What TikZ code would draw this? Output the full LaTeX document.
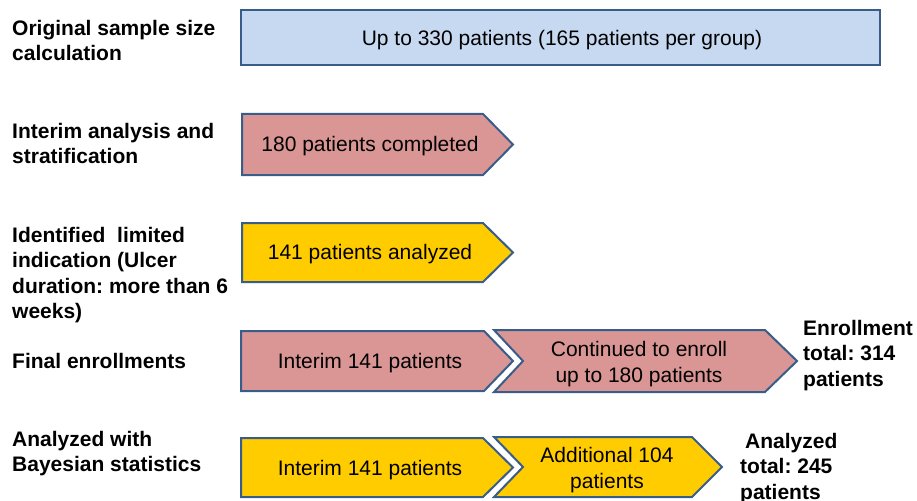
\documentclass[tikz,border=0pt]{standalone}
\usepackage{fontspec}
\setmainfont{Liberation Sans}
\frenchspacing
\definecolor{edgeblue}{RGB}{56,93,138}
\definecolor{boxblue}{RGB}{198,217,241}
\definecolor{boxred}{RGB}{217,150,148}
\definecolor{boxyellow}{RGB}{255,204,0}
\tikzset{
  shapebox/.style={draw=edgeblue, line width=2pt, line join=miter},
  boxtext/.style={font=\fontsize{21}{25.5}\selectfont, align=center, inner sep=0pt, text=black},
  sidetext/.style={font=\bfseries\fontsize{21}{25.5}\selectfont, align=left, inner sep=0pt, anchor=north west, text=black}
}
\begin{document}
\begin{tikzpicture}[x=1pt,y=-1pt]
\useasboundingbox (0,0) rectangle (917,500);
% shapes
\draw[shapebox, fill=boxblue] (241,10) rectangle (880,65);
\draw[shapebox, fill=boxred] (242,114) -- (483,114) -- (513,144.5) -- (483,175) -- (242,175) -- cycle;
\draw[shapebox, fill=boxyellow] (242,223) -- (483,223) -- (513,252.5) -- (483,282) -- (242,282) -- cycle;
\draw[shapebox, fill=boxred] (241,331) -- (484,331) -- (513,361) -- (484,391) -- (241,391) -- cycle;
\draw[shapebox, fill=boxred] (494,330) -- (765,330) -- (797,361) -- (765,392) -- (494,392) -- (523,361) -- cycle;
\draw[shapebox, fill=boxyellow] (241,438) -- (483,438) -- (513,467.5) -- (483,497) -- (241,497) -- cycle;
\draw[shapebox, fill=boxyellow] (494,437) -- (692,437) -- (722,467) -- (692,497) -- (494,497) -- (523,467) -- cycle;
% box texts
\node[boxtext] (t1) at (562,40) {Up to 330 patients (165 patients per group)};
\node[boxtext] (t2) at (370,146) {180 patients completed};
\node[boxtext] (t3) at (370,254) {141 patients analyzed};
\node[boxtext] (t4a) at (370,363) {Interim 141 patients};
\node[boxtext] (t4b) at (639,364) {Continued to enroll\\up to 180 patients};
\node[boxtext] (t5a) at (370,470) {Interim 141 patients};
\node[boxtext] (t5b) at (607,470) {Additional 104\\patients};
% left labels
\node[sidetext] (l1) at (12,20) {Original sample size\\calculation};
\node[sidetext] (l2) at (12,123) {Interim analysis and\\stratification};
\node[sidetext] (l3) at (12,227) {Identified\ \ limited\\indication (Ulcer\\duration: more than 6\\weeks)};
\node[sidetext] (l4) at (12,353) {Final enrollments};
\node[sidetext] (l5) at (12,431) {Analyzed with\\Bayesian statistics};
% right labels
\node[sidetext] (r4) at (803,320) {Enrollment\\total: 314\\patients};
\node[sidetext] (r5) at (740,433) {\hspace*{5pt}Analyzed\\total: 245\\patients};
\end{tikzpicture}
\end{document}
